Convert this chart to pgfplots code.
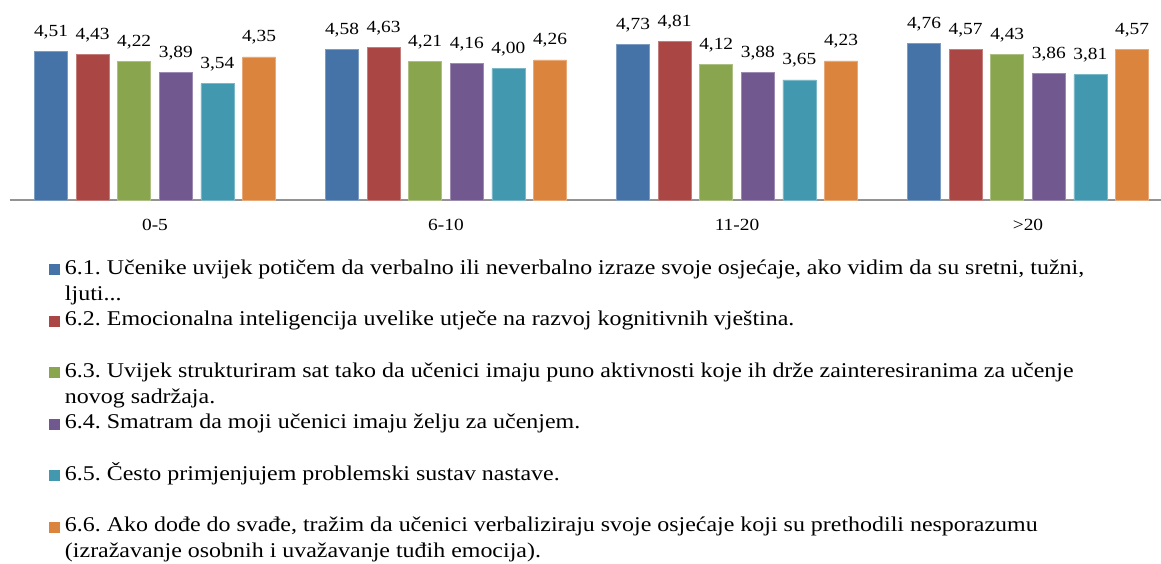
\documentclass[border=0pt]{standalone}
\usepackage{pgfplots}
\pgfplotsset{compat=1.18}
\usepackage{fontspec}
\setmainfont[FakeStretch=1.14]{Liberation Serif}
\frenchspacing
\definecolor{c1}{HTML}{4572A7}
\definecolor{c2}{HTML}{AA4643}
\definecolor{c3}{HTML}{89A54E}
\definecolor{c4}{HTML}{71588F}
\definecolor{c5}{HTML}{4198AF}
\definecolor{c6}{HTML}{DB843D}
\newcommand{\lent}[1]{\parbox[t]{1100pt}{\raggedright\frenchspacing\strut #1}}
\begin{document}
\begin{tikzpicture}[x=1pt,y=1pt]
\path[use as bounding box] (0,0) rectangle (1161,563);
\begin{axis}[
  at={(9.5pt,363pt)}, anchor=south west,
  x=291pt, y=32.9pt,
  xmin=-0.5, xmax=3.457, ymin=0, ymax=5,
  clip=false,
  ybar=8.6pt, bar width=33pt,
  axis x line*=bottom, axis y line=none,
  ytick=\empty,
  xtick={0,1,2,3},
  xticklabels={0-5,6-10,11-20,>20},
  major tick length=0pt,
  xtick style={draw=none},
  x axis line style={-, draw=gray!85, line width=1.6pt},
  every outer x axis line/.append style={-},
  xticklabel style={font=\fontsize{17}{21}\selectfont, anchor=base, yshift=-30pt, inner sep=0pt},
  nodes near coords={\pgfmathprintnumber[fixed,fixed zerofill,precision=2,use comma,assume math mode=true]{\pgfplotspointmeta}},
  every node near coord/.append style={font=\fontsize{17}{21}\selectfont, anchor=base, yshift=15pt, inner sep=0pt, text=black},
  legend cell align=left,
  legend style={at={(0.0343,-0.3392)}, anchor=north west, draw=none, fill=none,
    inner sep=0pt, outer sep=0pt, row sep=31.8pt, column sep=5pt,
    nodes={inner sep=0pt, anchor=base west},
    font=\fontsize{21}{26}\selectfont},
  legend image code/.code={\path[#1, draw=none] (0pt,-1pt) rectangle (11pt,10pt);},
]
\addplot[fill=c1, draw=c1!70!white, line width=0.6pt] coordinates {(0,4.51) (1,4.58) (2,4.73) (3,4.76)};
\addlegendentry{\lent{6.1. Učenike uvijek potičem da verbalno ili neverbalno izraze svoje osjećaje, ako vidim da su sretni, tužni,\\ ljuti...}}
\addplot[fill=c2, draw=c2!70!white, line width=0.6pt] coordinates {(0,4.43) (1,4.63) (2,4.81) (3,4.57)};
\addlegendentry{\lent{6.2. Emocionalna inteligencija uvelike utječe na razvoj kognitivnih vještina.}}
\addplot[fill=c3, draw=c3!70!white, line width=0.6pt] coordinates {(0,4.22) (1,4.21) (2,4.12) (3,4.43)};
\addlegendentry{\lent{6.3. Uvijek strukturiram sat tako da učenici imaju puno aktivnosti koje ih drže zainteresiranima za učenje\\ novog sadržaja.}}
\addplot[fill=c4, draw=c4!70!white, line width=0.6pt] coordinates {(0,3.89) (1,4.16) (2,3.88) (3,3.86)};
\addlegendentry{\lent{6.4. Smatram da moji učenici imaju želju za učenjem.}}
\addplot[fill=c5, draw=c5!70!white, line width=0.6pt] coordinates {(0,3.54) (1,4.00) (2,3.65) (3,3.81)};
\addlegendentry{\lent{6.5. Često primjenjujem problemski sustav nastave.}}
\addplot[fill=c6, draw=c6!70!white, line width=0.6pt] coordinates {(0,4.35) (1,4.26) (2,4.23) (3,4.57)};
\addlegendentry{\lent{6.6. Ako dođe do svađe, tražim da učenici verbaliziraju svoje osjećaje koji su prethodili nesporazumu\\ (izražavanje osobnih i uvažavanje tuđih emocija).}}
\end{axis}
\end{tikzpicture}
\end{document}
